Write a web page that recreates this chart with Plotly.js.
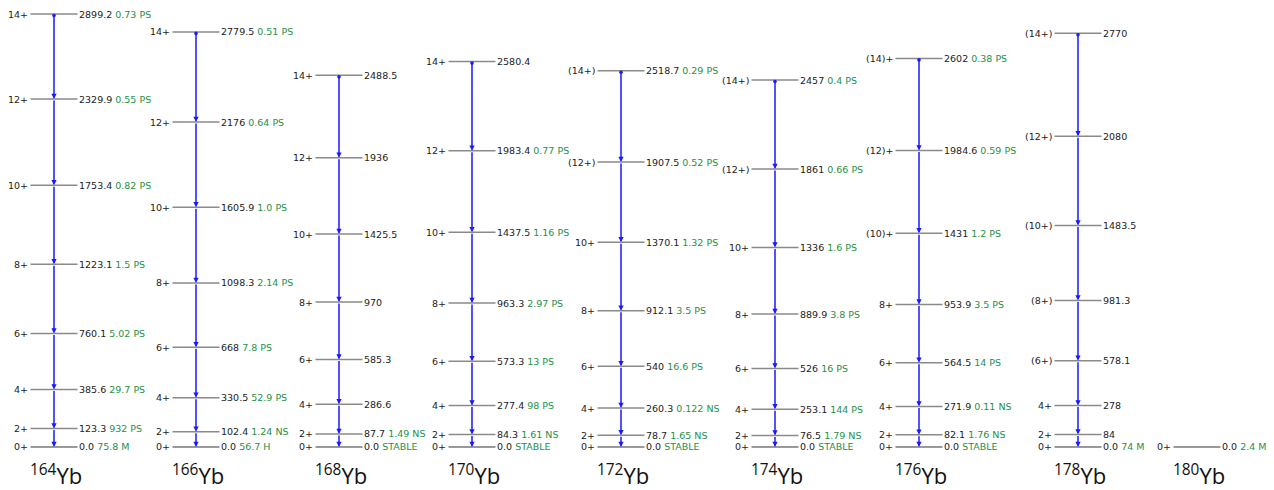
<!DOCTYPE html>
<html><head><meta charset="utf-8">
<script src="https://cdn.plot.ly/plotly-3.0.1.min.js"></script>
<style>html,body{margin:0;padding:0;background:#fff}#chart{width:1274px;height:490px}</style>
</head><body><div id="chart"></div>
<script>
// ---- data ----
const isotopes = ['164', '166', '168', '170', '172', '174', '176', '178', '180'];

const yb164Energy = [0, 123.3, 385.6, 760.1, 1223.1, 1753.4, 2329.9, 2899.2];
const yb164Spin = ['0+', '2+', '4+', '6+', '8+', '10+', '12+', '14+'];
const yb164HalfLife = ['75.8 M', '932 PS', '29.7 PS', '5.02 PS', '1.5 PS', '0.82 PS', '0.55 PS', '0.73 PS'];

const yb166Energy = [0, 102.4, 330.5, 668, 1098.3, 1605.9, 2176, 2779.5];
const yb166Spin = ['0+', '2+', '4+', '6+', '8+', '10+', '12+', '14+'];
const yb166HalfLife = ['56.7 H', '1.24 NS', '52.9 PS', '7.8 PS', '2.14 PS', '1.0 PS', '0.64 PS', '0.51 PS'];

const yb168Energy = [0, 87.7, 286.6, 585.3, 970, 1425.5, 1936, 2488.5];
const yb168Spin = ['0+', '2+', '4+', '6+', '8+', '10+', '12+', '14+'];
const yb168HalfLife = ['STABLE', '1.49 NS', '', '', '', '', '', ''];

const yb170Energy = [0, 84.3, 277.4, 573.3, 963.3, 1437.5, 1983.4, 2580.4];
const yb170Spin = ['0+', '2+', '4+', '6+', '8+', '10+', '12+', '14+'];
const yb170HalfLife = ['STABLE', '1.61 NS', '98 PS', '13 PS', '2.97 PS', '1.16 PS', '0.77 PS', ''];

const yb172Energy = [0, 78.7, 260.3, 540, 912.1, 1370.1, 1907.5, 2518.7];
const yb172Spin = ['0+', '2+', '4+', '6+', '8+', '10+', '(12+)', '(14+)'];
const yb172HalfLife = ['STABLE', '1.65 NS', '0.122 NS', '16.6 PS', '3.5 PS', '1.32 PS', '0.52 PS', '0.29 PS'];

const yb174Energy = [0, 76.5, 253.1, 526, 889.9, 1336, 1861, 2457];
const yb174Spin = ['0+', '2+', '4+', '6+', '8+', '10+', '(12+)', '(14+)'];
const yb174HalfLife = ['STABLE', '1.79 NS', '144 PS', '16 PS', '3.8 PS', '1.6 PS', '0.66 PS', '0.4 PS'];

const yb176Energy = [0, 82.1, 271.9, 564.5, 953.9, 1431, 1984.6, 2602];
const yb176Spin = ['0+', '2+', '4+', '6+', '8+', '(10)+', '(12)+', '(14)+'];
const yb176HalfLife = ['STABLE', '1.76 NS', '0.11 NS', '14 PS', '3.5 PS', '1.2 PS', '0.59 PS', '0.38 PS'];

const yb178Energy = [0, 84, 278, 578.1, 981.3, 1483.5, 2080, 2770];
const yb178Spin = ['0+', '2+', '4+', '(6+)', '(8+)', '(10+)', '(12+)', '(14+)'];
const yb178HalfLife = ['74 M', '', '', '', '', '', '', ''];

const yb180Energy = [0];
const yb180Spin = ['0+'];
const yb180HalfLife = ['2.4 M'];

// ---- layout (column centres in x-axis units) ----
const columnX = [54, 196, 339, 472, 621, 775, 919, 1078, 1197];
const levelHalf = 23.5;

const energies = [yb164Energy, yb166Energy, yb168Energy, yb170Energy, yb172Energy, yb174Energy, yb176Energy, yb178Energy, yb180Energy];
const spins = [yb164Spin, yb166Spin, yb168Spin, yb170Spin, yb172Spin, yb174Spin, yb176Spin, yb178Spin, yb180Spin];
const halfLives = [yb164HalfLife, yb166HalfLife, yb168HalfLife, yb170HalfLife, yb172HalfLife, yb174HalfLife, yb176HalfLife, yb178HalfLife, yb180HalfLife];

const GREEN = '#25904a';
const FONT = 'DejaVu Sans';
const shapes = [];
const annotations = [];

isotopes.forEach((iso, c) => {
  const x0 = columnX[c];
  const E = energies[c];
  E.forEach((e, i) => {
    shapes.push({type: 'line', xref: 'x', yref: 'y', x0: x0 - levelHalf, x1: x0 + levelHalf, y0: e, y1: e,
      line: {color: i === 0 ? '#333333' : '#8a8a8a', width: i === 0 ? 1 : 1.5}});
    annotations.push({xref: 'x', yref: 'y', x: x0 - levelHalf - 1, y: e, text: spins[c][i], showarrow: false,
      xanchor: 'right', yanchor: 'middle', font: {family: FONT, size: 9.5, color: '#222'}});
    const elabel = e === 0 ? '0.0' : String(e);
    const hl = halfLives[c][i];
    annotations.push({xref: 'x', yref: 'y', x: x0 + levelHalf - 1, y: e,
      text: elabel + (hl ? ' <span style="color:' + GREEN + '">' + hl + '</span>' : ''),
      showarrow: false, xanchor: 'left', yanchor: 'middle', font: {family: FONT, size: 9.5, color: '#222'}});
  });
  // transitions
  for (let i = E.length - 1; i >= 1; i--) {
    const top = i === E.length - 1;
    annotations.push({xref: 'x', yref: 'y', axref: 'x', ayref: 'y', x: x0, y: E[i - 1], ax: x0, ay: E[i],
      text: '', showarrow: true, arrowhead: 2, arrowsize: 0.7, arrowwidth: 1.5, arrowcolor: '#1a1aff',
      arrowside: top ? 'end+start' : 'end', startarrowhead: 6, startarrowsize: 0.6, standoff: 0, startstandoff: 0});
  }
  annotations.push({xref: 'x', yref: 'paper', x: x0 + 2, y: 1 - 474 / 490, text: '<sup>' + iso + '</sup>Yb',
    showarrow: false, xanchor: 'center', yanchor: 'middle', font: {family: 'Open Sans', size: 22, color: '#111'}});
});

const layout = {
  width: 1274, height: 490,
  margin: {l: 0, r: 0, t: 0, b: 0},
  paper_bgcolor: '#fff', plot_bgcolor: '#fff',
  showlegend: false,
  xaxis: {range: [0, 1274], visible: false, showgrid: false, zeroline: false},
  yaxis: {range: [-288, 2993], visible: false, showgrid: false, zeroline: false},
  shapes: shapes,
  annotations: annotations
};

Plotly.newPlot('chart', [{x: [], y: [], type: 'scatter', mode: 'markers', hoverinfo: 'skip'}], layout, {staticPlot: true, displayModeBar: false});
</script>
</body></html>
